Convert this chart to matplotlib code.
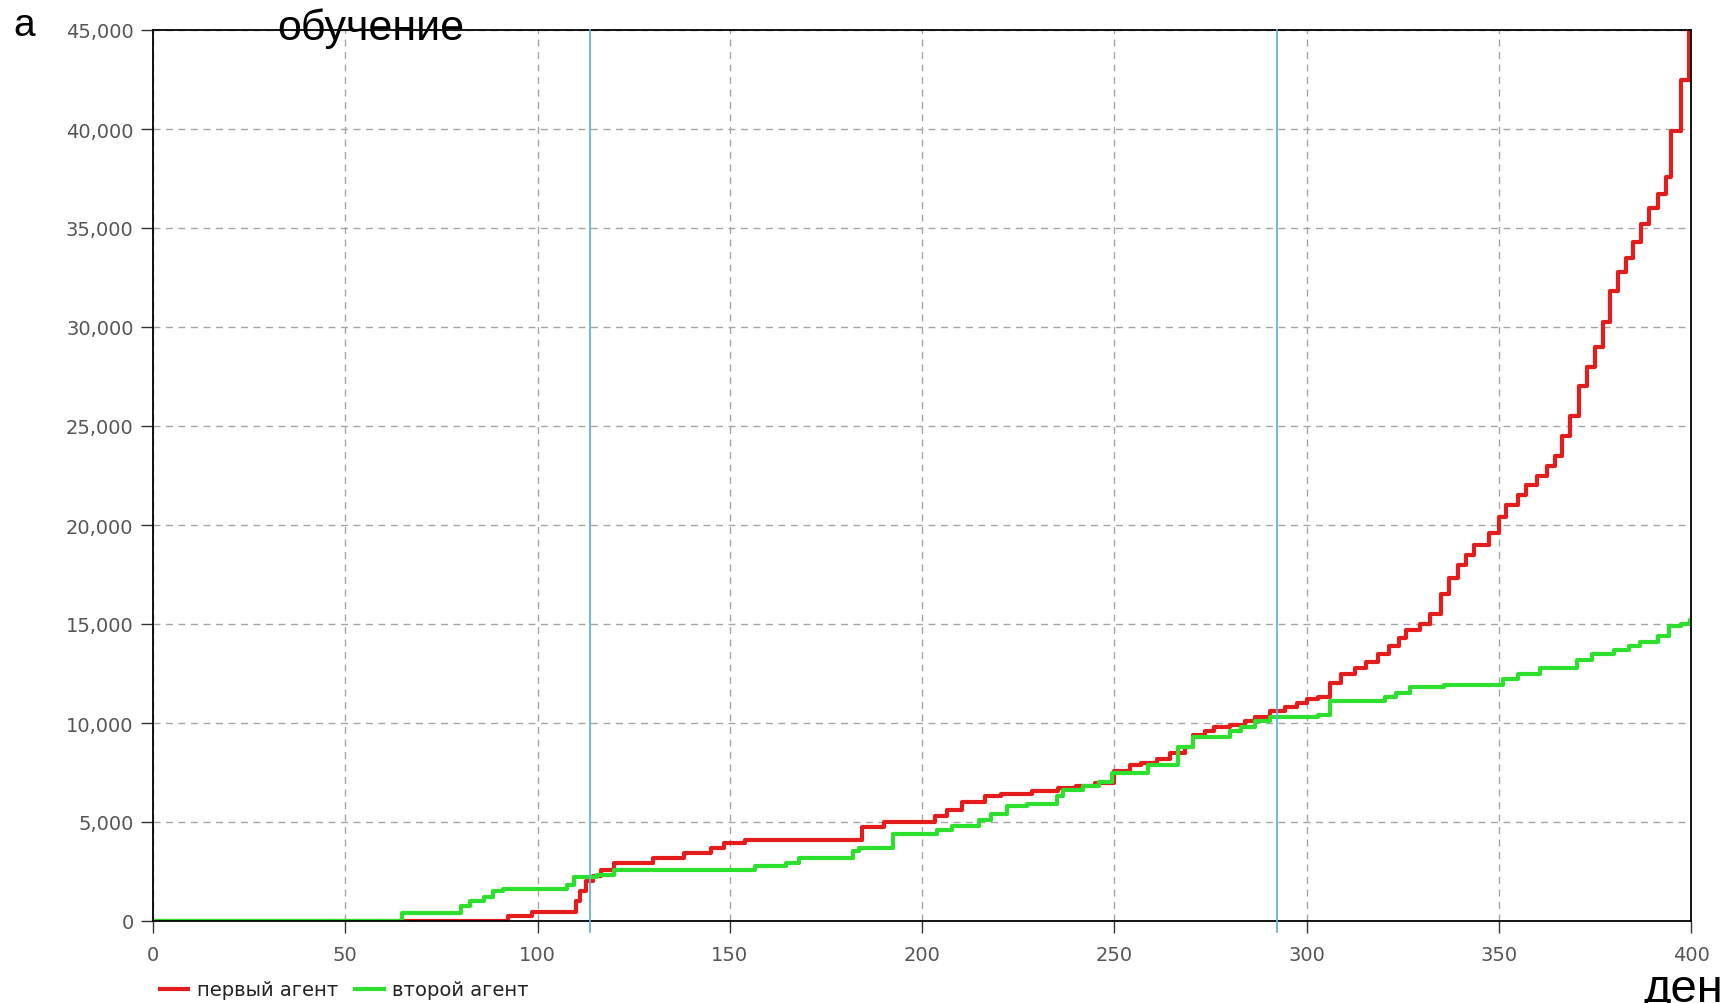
import matplotlib
matplotlib.use("Agg")
import matplotlib.pyplot as plt
from matplotlib.ticker import StrMethodFormatter, MultipleLocator

# --- Данные (ступенчатые кривые) ---
red_x = [0, 92.3, 98.5, 110, 111, 112.5, 114.5, 116.5, 120, 130, 138, 145, 148.5, 154,
         184.5, 190, 203.5, 206.5, 210.5, 216.5, 220.5, 228.5, 235.5, 240, 245, 250, 254,
         257, 261, 264.5, 268.5, 270.5, 273.5, 276, 280, 284, 286.5, 290.5, 294.5, 297.5,
         300, 303, 306, 309, 312.5, 315.5, 318.5, 321.5, 324, 326, 329.5, 332, 335, 337,
         339.5, 341.5, 343.5, 347.5, 350, 352, 355, 357, 360, 362.5, 364.5, 366.5, 368.5,
         371, 373, 375, 377, 379, 381, 383, 385, 387, 389, 391.5, 393.5, 394.8, 397.4,
         399.5, 400]
red_y = [0, 250, 450, 1000, 1500, 2000, 2250, 2600, 2950, 3200, 3450, 3700, 3950, 4100,
         4750, 5000, 5300, 5600, 6000, 6300, 6400, 6550, 6700, 6800, 6950, 7600, 7900,
         8000, 8200, 8500, 8800, 9400, 9600, 9800, 9900, 10100, 10300, 10600, 10800, 11000,
         11200, 11300, 12000, 12500, 12800, 13100, 13500, 13900, 14300, 14700, 15000, 15500,
         16500, 17300, 18000, 18500, 19000, 19600, 20400, 21000, 21500, 22000, 22500, 23000,
         23500, 24500, 25500, 27000, 28000, 29000, 30250, 31800, 32800, 33500, 34300, 35200,
         36000, 36700, 37600, 39900, 42500, 45000, 45000]

green_x = [0, 64.7, 80, 82.4, 86, 88.4, 91, 107.6, 109.5, 115.5, 120, 156.5, 164.6, 168,
           182, 183.5, 192.5, 204, 207.7, 214.7, 218, 222, 227.4, 235, 236.7, 242, 246,
           249.5, 258.7, 266.5, 270.4, 280, 283, 286.7, 290.6, 303, 306, 320.4, 323.3, 327,
           335.8, 351, 355, 360.8, 370.4, 374.2, 380, 383.8, 386.7, 391.5, 394.4, 397.3,
           399.7, 400]
green_y = [0, 400, 750, 1000, 1200, 1500, 1600, 1800, 2200, 2300, 2600, 2800, 2950, 3200,
           3550, 3700, 4400, 4600, 4800, 5100, 5400, 5800, 5900, 6300, 6600, 6800, 7000,
           7500, 7900, 8800, 9300, 9600, 9800, 10100, 10300, 10400, 11100, 11300, 11500, 11800,
           11900, 12200, 12500, 12800, 13200, 13500, 13700, 13900, 14100, 14400, 14900, 15000,
           15200, 15200]

series_labels = ["первый агент", "второй агент"]
phase_marks = [113.7, 292.2]   # границы этапов (синие линии)

# --- Рисунок ---
fig = plt.figure(figsize=(17.27, 10.04), dpi=100)
ax = fig.add_axes([153 / 1727, 82 / 1004, 1538 / 1727, 891 / 1004])

ax.step(red_x, red_y, where="post", color="#e41c1c", lw=3.0, label=series_labels[0], zorder=2)
ax.step(green_x, green_y, where="post", color="#2ee02e", lw=3.0, label=series_labels[1], zorder=2.1)

for xm in phase_marks:
    ax.axvline(xm, ymin=-0.012, ymax=1, color="#62b3e3", lw=1.3, clip_on=False, zorder=3)

ax.set_xlim(0, 400)
ax.set_ylim(0, 45000)
ax.xaxis.set_major_locator(MultipleLocator(50))
ax.yaxis.set_major_locator(MultipleLocator(5000))
ax.yaxis.set_major_formatter(StrMethodFormatter("{x:,.0f}"))

ax.grid(True, color="#a5a5a5", lw=1.0, linestyle=(0, (5, 4)))
for sp in ax.spines.values():
    sp.set_color("black")
    sp.set_linewidth(1.3)
ax.tick_params(axis="both", labelsize=14, labelcolor="#555555", color="#333333",
               length=8.5, width=1.0)
ax.tick_params(axis="y", pad=5.5)
ax.tick_params(axis="x", pad=9)

fig.legend(loc="center left", bbox_to_anchor=(160 / 1727, 1 - 991 / 1004), ncol=2,
           frameon=False, fontsize=14, handlelength=1.45, handletextpad=0.46,
           columnspacing=0.87, borderpad=0, borderaxespad=0, labelcolor="#222222")

# --- Подписи поверх графика ---
fig.text(13 / 1727, 1 - 36 / 1004, "а", fontsize=28, family="Liberation Sans", va="baseline")
fig.text(277 / 1727, 1 - 40 / 1004, "обучение", fontsize=31, family="Liberation Sans", va="baseline")
fig.text(1643 / 1727, 2 / 1004, "ден", fontsize=34, family="Liberation Sans", va="baseline")

fig.savefig("out.png", dpi=100)
